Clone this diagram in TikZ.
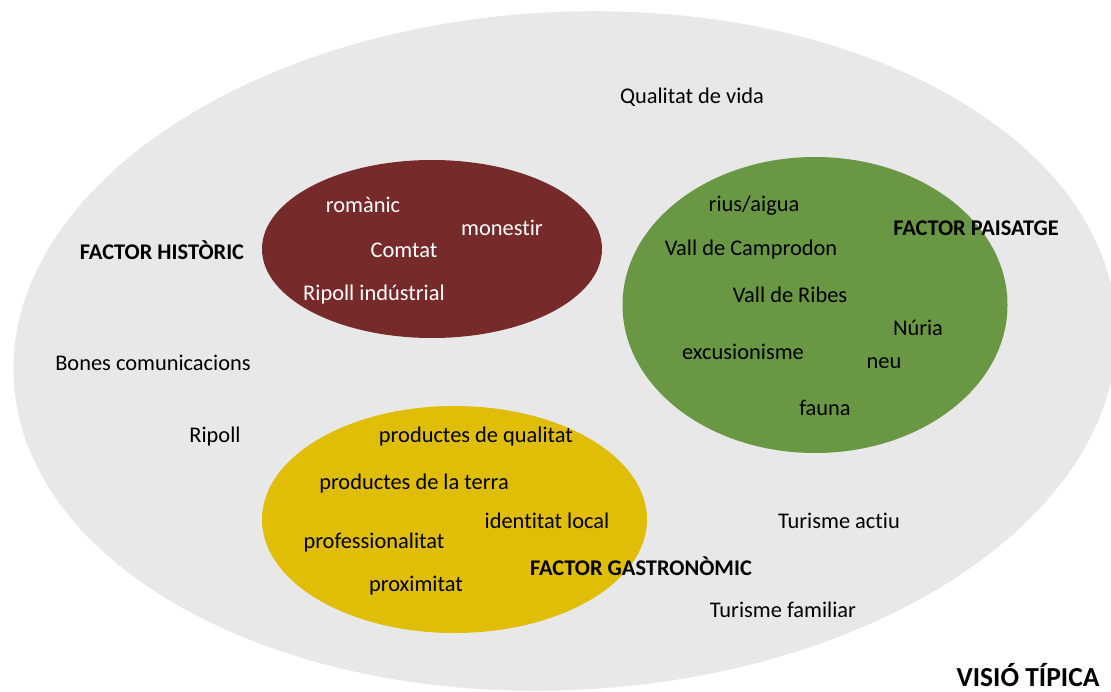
\documentclass[tikz,border=0pt]{standalone}
\usepackage{fontspec}
\setmainfont{Carlito}[Ligatures={NoCommon}]
\usetikzlibrary{shapes.geometric}
\definecolor{outergrey}{HTML}{E8E8E8}
\definecolor{histred}{HTML}{772A2A}
\definecolor{paisgreen}{HTML}{699744}
\definecolor{gastroyellow}{HTML}{E0BD06}
\begin{document}
\begin{tikzpicture}[x=1pt,y=-1pt,
  every node/.style={inner sep=0pt, outer sep=0pt},
  blob/.style={ellipse, draw=none, inner sep=0pt},
  word/.style={font=\fontsize{22.4}{26}\selectfont, text=black},
  whiteword/.style={word, text=white},
  factor/.style={font=\fontsize{22.4}{26}\selectfont\bfseries, text=black},
  title/.style={font=\fontsize{27.5}{30}\selectfont\bfseries, text=black}]
  \fill[white] (0,0) rectangle (1111,692);
  \useasboundingbox (0,0) rectangle (1111,692);
  \clip (0,0) rectangle (1111,692);

  % the overall region and the three factor areas
  \node[blob, fill=outergrey, minimum width=1104pt, minimum height=678pt, rotate=3] (vision) at (565,351) {};
  \node[blob, fill=histred, minimum width=340pt, minimum height=178pt] (hist) at (432,249) {};
  \node[blob, fill=paisgreen, minimum width=385pt, minimum height=296pt] (pais) at (815,305) {};
  \node[blob, fill=gastroyellow, minimum width=385pt, minimum height=227pt] (gastro) at (454.5,519.5) {};

  % general terms
  \node[word] (qv) at (692,97) {Qualitat de vida};
  \node[word] (bc) at (153,363) {Bones comunicacions};
  \node[word] (rip) at (215,437) {Ripoll};
  \node[word] (ta) at (839,521) {Turisme actiu};
  \node[word] (tf) at (783,610) {Turisme familiar};

  % historical factor
  \node[factor] (fh) at (162,250) {FACTOR HISTÒRIC};
  \node[whiteword] (rom) at (363,205) {romànic};
  \node[whiteword] (mon) at (502,228) {monestir};
  \node[whiteword] (com) at (404,250) {Comtat};
  \node[whiteword] (rind) at (374,295) {Ripoll indústrial};

  % landscape factor
  \node[factor] (fp) at (976,228) {FACTOR PAISATGE};
  \node[word] (rius) at (754,206) {rius/aigua};
  \node[word] (vc) at (751,250) {Vall de Camprodon};
  \node[word] (vr) at (790,295) {Vall de Ribes};
  \node[word] (nur) at (918,328) {Núria};
  \node[word] (exc) at (743,352) {excusionisme};
  \node[word] (neu) at (884,363) {neu};
  \node[word] (fau) at (825,408) {fauna};

  % gastronomic factor
  \node[factor] (fg) at (641,566) {FACTOR GASTRONÒMIC};
  \node[word] (pq) at (476,437) {productes de qualitat};
  \node[word] (pt) at (414,484) {productes de la terra};
  \node[word] (il) at (547,521) {identitat local};
  \node[word] (prof) at (374,543) {professionalitat};
  \node[word] (prox) at (416,586) {proximitat};

  \node[title, anchor=base] (vt) at (1028,686) {VISIÓ TÍPICA};
\end{tikzpicture}
\end{document}
